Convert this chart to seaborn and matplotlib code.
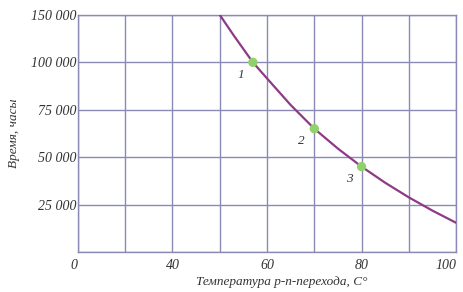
import numpy as np
import pandas as pd
import matplotlib.pyplot as plt
import matplotlib.transforms as mtransforms
import seaborn as sns

# curve (x axis starts at 20 but is labelled 0, top grid is labelled 150 000)
temp = [50, 53, 57, 60, 65, 70, 75, 80, 85, 90, 95, 100]
hours = [125000, 114000, 100000, 91500, 77500, 65000, 54500, 45000, 36500, 28800, 21800, 15400]

pt_temp = [57, 70, 80]
pt_hours = [100000, 65000, 45000]
pt_names = ["1", "2", "3"]

xticks = [20, 40, 60, 80, 100]
xtick_labels = ["0", "40", "60", "80", "100"]
yticks = [0, 25000, 50000, 75000, 100000, 125000]
ytick_labels = ["", "25 000", "50 000", "75 000", "100 000", "150 000"]

sns.set_style("white")
plt.rcParams['font.family'] = ['Liberation Serif', 'DejaVu Serif']

grid_col = "#8a8ab4"
text_col = "#333333"

fig = plt.figure(figsize=(4.64, 2.92), dpi=100)
ax = fig.add_axes([0.168, 0.137, 0.815, 0.812])

curve = pd.DataFrame({"t": temp, "h": hours})
pts = pd.DataFrame({"t": pt_temp, "h": pt_hours})

sns.lineplot(data=curve, x="t", y="h", ax=ax, color="#8e3a86", linewidth=1.6, zorder=3)
sns.scatterplot(data=pts, x="t", y="h", ax=ax, color="#8fd16a", s=45, edgecolor="none", zorder=4)

for t, h, n in zip(pt_temp, pt_hours, pt_names):
    ax.annotate(n, (t, h), xytext=(-9, -9), textcoords="offset points",
                fontsize=9.5, style="italic", color=text_col, ha="center", va="center")

ax.set_xlim(20, 100)
ax.set_ylim(0, 125000)
ax.set_xticks(xticks)
ax.set_xticks(np.arange(20, 101, 10), minor=True)
ax.set_xticklabels(xtick_labels, style="italic", fontsize=10, color=text_col)
ax.set_yticks(yticks)
ax.set_yticklabels(ytick_labels, style="italic", fontsize=10, color=text_col)
labels = ax.get_xticklabels()
labels[0].set_horizontalalignment("right")
labels[-1].set_horizontalalignment("right")
labels[-1].set_transform(labels[-1].get_transform() +
                         mtransforms.ScaledTranslation(0.07, 0, fig.dpi_scale_trans))
ax.tick_params(axis="both", which="both", length=0)
ax.tick_params(axis="x", pad=5)
ax.tick_params(axis="y", pad=1)

ax.grid(True, which="both", color=grid_col, linewidth=1.0)
for s in ax.spines.values():
    s.set_color(grid_col)
    s.set_linewidth(1.0)

ax.set_xlabel("Температура p-n-перехода, С°", style="italic", fontsize=9.5, color=text_col)
ax.xaxis.set_label_coords(0.54, -0.1)
ax.set_ylabel("Время, часы", style="italic", fontsize=9.5, color=text_col, labelpad=8)

plt.savefig("out.png", dpi=100)
